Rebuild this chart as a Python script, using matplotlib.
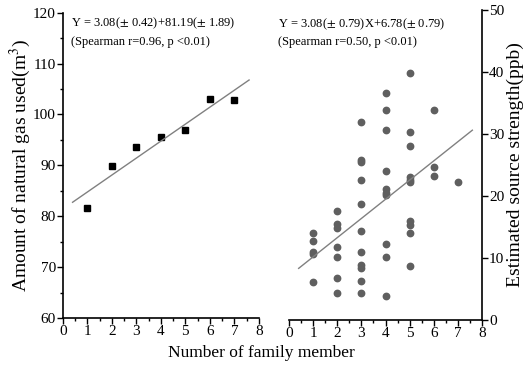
import matplotlib
matplotlib.use("Agg")
import matplotlib.pyplot as plt
import numpy as np
from matplotlib.ticker import MultipleLocator

# left panel: mean natural gas use per family size
gas_members = [1, 2, 3, 4, 5, 6, 7]
gas_used = [81.6, 89.8, 93.6, 95.5, 97.0, 103.0, 102.8]

# right panel: estimated source strength per household
src_members = [1, 1, 1, 1, 1,
               2, 2, 2, 2, 2, 2, 2,
               3, 3, 3, 3, 3, 3, 3, 3, 3, 3, 3,
               4, 4, 4, 4, 4, 4, 4, 4, 4, 4,
               5, 5, 5, 5, 5, 5, 5, 5, 5, 5,
               6, 6, 6, 7]
src_strength = [14.0, 12.8, 11.0, 10.6, 6.1,
                17.6, 15.4, 14.8, 11.8, 10.2, 6.7, 4.4,
                31.9, 25.8, 25.5, 22.5, 18.7, 14.4, 11.0, 8.8, 8.3, 6.3, 4.3,
                36.6, 33.8, 30.6, 24.0, 21.1, 20.5, 20.2, 12.3, 10.1, 3.8,
                39.8, 30.3, 28.0, 23.1, 22.6, 22.3, 16.0, 15.3, 14.0, 8.7,
                33.8, 24.7, 23.2, 22.2]

left_note = ["Y = 3.08($\\pm$ 0.42)+81.19($\\pm$ 1.89)",
             "(Spearman r=0.96, p <0.01)"]
right_note = ["Y = 3.08($\\pm$ 0.79)X+6.78($\\pm$ 0.79)",
              "(Spearman r=0.50, p <0.01)"]

plt.rcParams["font.family"] = ["Liberation Serif", "DejaVu Serif"]
plt.rcParams["mathtext.fontset"] = "stix"

fig = plt.figure(figsize=(5.23, 3.72), dpi=100)
ax1 = fig.add_axes([0.12, 0.145, 0.375, 0.821])
ax2 = fig.add_axes([0.5526, 0.140, 0.369, 0.833])

fit_x = np.array([0.4, 7.6])
line_col = "#808080"

# left
ax1.plot(gas_members, gas_used, "s", color="black", markersize=5)
k, b = np.polyfit(gas_members, gas_used, 1)
ax1.plot(fit_x, k * fit_x + b, color=line_col, lw=1.0)
ax1.set_xlim(0, 8)
ax1.set_ylim(60, 120)
ax1.yaxis.set_major_locator(MultipleLocator(10))
ax1.yaxis.set_minor_locator(MultipleLocator(5))
ax1.spines[["top", "right"]].set_visible(False)
ax1.set_ylabel("Amount of natural gas used(m$^3$)", fontsize=14, labelpad=0)
ax1.text(0.04, 0.99, left_note[0], transform=ax1.transAxes, fontsize=9, va="top")
ax1.text(0.04, 0.925, left_note[1], transform=ax1.transAxes, fontsize=9, va="top")

# right
ax2.plot(src_members, src_strength, "o", color="#5f5f5f", markersize=4.6)
k2, b2 = np.polyfit(src_members, src_strength, 1)
ax2.plot(fit_x, k2 * fit_x + b2, color=line_col, lw=1.0)
ax2.set_xlim(0, 8)
ax2.set_ylim(0, 50)
ax2.yaxis.set_major_locator(MultipleLocator(10))
ax2.yaxis.tick_right()
ax2.yaxis.set_label_position("right")
ax2.spines[["top", "left"]].set_visible(False)
ax2.set_ylabel("Estimated source strength(ppb)", fontsize=14, labelpad=2)
ax2.text(-0.055, 0.98, right_note[0], transform=ax2.transAxes, fontsize=9, va="top")
ax2.text(-0.055, 0.915, right_note[1], transform=ax2.transAxes, fontsize=9, va="top")

for ax in (ax1, ax2):
    ax.xaxis.set_major_locator(MultipleLocator(1))
    ax.xaxis.set_minor_locator(MultipleLocator(0.5))
    ax.tick_params(which="major", length=4, width=1, labelsize=11, pad=1)
    ax.tick_params(which="minor", length=2.5, width=1)
    for s in ax.spines.values():
        s.set_linewidth(1.2)

fig.text(0.5, 0.03, "Number of family member", ha="center", va="bottom", fontsize=12.5)

fig.savefig("out.png", dpi=100)
